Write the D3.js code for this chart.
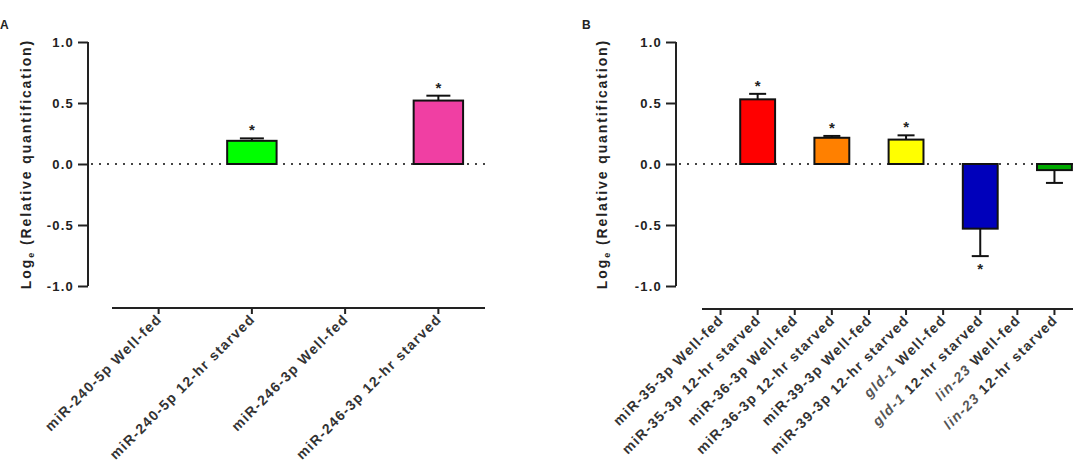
<!DOCTYPE html>
<html>
<head>
<meta charset="utf-8">
<script src="https://cdn.jsdelivr.net/npm/d3@7"></script>
<style>
  html, body { margin: 0; padding: 0; background: #fff; }
  svg { display: block; font-family: Arial, "Liberation Sans", sans-serif; }
</style>
</head>
<body>
<svg id="chart" width="1077" height="465"></svg>
<script>
// ---- Data ----
const yTicks = [1.0, 0.5, 0.0, -0.5, -1.0];

const catsA = ["miR-240-5p Well-fed", "miR-240-5p 12-hr starved", "miR-246-3p Well-fed", "miR-246-3p 12-hr starved"];
const valsA = [null, 0.19, null, 0.52];
const errsA = [null, 0.02, null, 0.04];
const sigA  = [false, true, false, true];
const colorsA = [null, "#00ff00", null, "#f03fa3"];

const catsB = ["miR-35-3p Well-fed", "miR-35-3p 12-hr starved", "miR-36-3p Well-fed", "miR-36-3p 12-hr starved",
               "miR-39-3p Well-fed", "miR-39-3p 12-hr starved", "gld-1 Well-fed", "gld-1 12-hr starved",
               "lin-23 Well-fed", "lin-23 12-hr starved"];
const valsB = [null, 0.53, null, 0.215, null, 0.20, null, -0.53, null, -0.05];
const errsB = [null, 0.045, null, 0.015, null, 0.035, null, 0.225, null, 0.105];
const sigB  = [false, true, false, true, false, true, false, true, false, false];
const colorsB = [null, "#ff0000", null, "#ff8000", null, "#ffff00", null, "#0000bb", null, "#00aa00"];
const italicGenes = ["gld-1", "lin-23"];

const svg = d3.select("#chart");

function drawPanel(opt) {
  const g = svg.append("g");
  const y = d3.scaleLinear().domain([-1, 1]).range([286, 42]);
  const x = d3.scaleBand().domain(opt.cats).range(opt.xRange).padding(0);
  const bw = x.bandwidth();
  const cx = c => x(c) + bw / 2;
  const barW = bw * opt.barFrac;

  // panel letter
  g.append("text").attr("x", opt.letterX).attr("y", 29)
    .attr("font-size", 12).attr("font-weight", "bold").attr("fill", "#222").text(opt.letter);

  // y axis
  const yAxis = g.append("g").attr("transform", `translate(${opt.yAxisX},0)`)
    .call(d3.axisLeft(y).tickValues(yTicks).tickFormat(d3.format(".1f")).tickSize(10).tickPadding(4));
  yAxis.select(".domain").attr("stroke", "#222").attr("stroke-width", 2)
    .attr("d", `M0,${y(1)}V${y(-1)}`);
  yAxis.selectAll(".tick line").attr("stroke", "#222").attr("stroke-width", 2);
  yAxis.selectAll(".tick text").attr("font-size", 13).attr("font-weight", "bold")
    .attr("fill", "#222").attr("letter-spacing", "1.2px").attr("font-family", "Arial, 'Liberation Sans', sans-serif")
    .text(d => d3.format(".1f")(d).replace("−", "-"));

  // y label
  const yl = g.append("text")
    .attr("transform", `translate(${opt.yLabelX},${(y(1) + y(-1)) / 2}) rotate(-90)`)
    .attr("text-anchor", "middle").attr("font-size", 14).attr("font-weight", "bold")
    .attr("fill", "#222").attr("letter-spacing", "1.9px");
  yl.append("tspan").text("Log");
  yl.append("tspan").attr("font-size", 9).attr("dy", 3).text("e");
  yl.append("tspan").attr("dy", -3).text(" (Relative quantification)");

  // dotted zero line
  g.append("line").attr("x1", opt.yAxisX + 3).attr("x2", opt.zeroEnd)
    .attr("y1", y(0)).attr("y2", y(0))
    .attr("stroke", "#444").attr("stroke-width", 2).attr("stroke-dasharray", "2,6");

  // x axis
  const xAxis = g.append("g").attr("transform", `translate(0,${opt.xAxisY})`)
    .call(d3.axisBottom(x).tickSize(6).tickFormat(""));
  xAxis.select(".domain").attr("stroke", "#222").attr("stroke-width", 2)
    .attr("d", `M${opt.xRange[0]},0H${opt.xRange[1]}`);
  xAxis.selectAll(".tick line").attr("stroke", "#222").attr("stroke-width", 2);

  // category labels
  opt.cats.forEach(c => {
    const t = g.append("text")
      .attr("transform", `translate(${cx(c) + 4},${opt.xAxisY + 12}) rotate(-45)`)
      .attr("text-anchor", "end").attr("font-size", opt.catFont).attr("font-weight", "bold")
      .attr("fill", "#333").attr("letter-spacing", "1.3px");
    const gene = italicGenes.find(gn => c.startsWith(gn));
    if (gene) {
      t.append("tspan").attr("font-style", "italic").attr("fill", "#555").text(gene);
      t.append("tspan").text(c.slice(gene.length));
    } else {
      t.text(c);
    }
  });

  // bars
  opt.cats.forEach((c, i) => {
    const v = opt.vals[i];
    if (v === null) return;
    const e = opt.errs[i];
    const top = Math.min(y(v), y(0)), h = Math.abs(y(v) - y(0));
    g.append("rect").attr("x", cx(c) - barW / 2).attr("y", top)
      .attr("width", barW).attr("height", h)
      .attr("fill", opt.colors[i]).attr("stroke", "#111").attr("stroke-width", 2);
    const ye = y(v + Math.sign(v) * e);
    g.append("line").attr("x1", cx(c)).attr("x2", cx(c)).attr("y1", y(v)).attr("y2", ye)
      .attr("stroke", "#111").attr("stroke-width", 2);
    g.append("line").attr("x1", cx(c) - opt.capW / 2).attr("x2", cx(c) + opt.capW / 2)
      .attr("y1", ye).attr("y2", ye).attr("stroke", "#111").attr("stroke-width", 2);
    if (opt.sig[i]) {
      const sy = v >= 0 ? ye - 3 : ye + 18;
      g.append("text").attr("x", cx(c)).attr("y", sy).attr("text-anchor", "middle")
        .attr("font-size", 15).attr("font-weight", "bold").attr("fill", "#222").text("*");
    }
  });
}

drawPanel({
  letter: "A", letterX: 0, yAxisX: 88, yLabelX: 31,
  cats: catsA, vals: valsA, errs: errsA, sig: sigA, colors: colorsA,
  xRange: [112, 485], xAxisY: 308, zeroEnd: 485, barFrac: 0.53, capW: 24, catFont: 14
});

drawPanel({
  letter: "B", letterX: 582, yAxisX: 676, yLabelX: 607,
  cats: catsB, vals: valsB, errs: errsB, sig: sigB, colors: colorsB,
  xRange: [702, 1073], xAxisY: 309, zeroEnd: 1077, barFrac: 0.94, capW: 17, catFont: 14
});
</script>
</body>
</html>
